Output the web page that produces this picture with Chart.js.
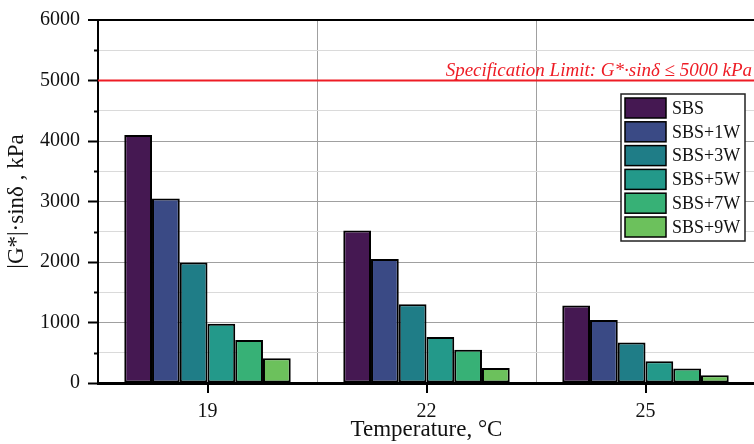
<!DOCTYPE html>
<html>
<head>
<meta charset="utf-8">
<script src="https://cdn.jsdelivr.net/npm/chart.js@4/dist/chart.umd.min.js"></script>
<style>
  html, body { margin: 0; padding: 0; background: #fff; overflow: hidden; }
  #wrap { width: 755px; height: 444px; position: relative; }
</style>
</head>
<body>
<div id="wrap"><canvas id="chart"></canvas></div>
<script>
// temperatures (°C) and |G*|·sinδ per binder, kPa
const temps = ['19', '22', '25'];
const sbs   = [4100, 2520, 1280];
const sbs1w = [3050, 2050, 1040];
const sbs3w = [1990, 1300, 670];
const sbs5w = [980, 760, 360];
const sbs7w = [710, 550, 240];
const sbs9w = [410, 250, 130];

const seriesNames = ['SBS', 'SBS+1W', 'SBS+3W', 'SBS+5W', 'SBS+7W', 'SBS+9W'];
const seriesColors = ['#451852', '#3a4a85', '#1f7d87', '#23998a', '#37b176', '#6cc15c'];
const specLimit = 5000;

const SERIF = '"Liberation Serif", "Times New Roman", serif';

const datasets = [sbs, sbs1w, sbs3w, sbs5w, sbs7w, sbs9w].map((vals, i) => ({
  label: seriesNames[i],
  data: vals,
  backgroundColor: seriesColors[i],
  borderColor: '#000',
  borderWidth: 2,
  borderSkipped: false,
  categoryPercentage: 0.76,
  barPercentage: 1
}));

// spec limit line + label, extra tick marks, boxed legend
const extras = {
  id: 'extras',
  beforeDatasetsDraw(chart) {
    const { ctx, chartArea: a, scales: { y } } = chart;
    const yy = y.getPixelForValue(specLimit);
    ctx.save();
    ctx.strokeStyle = '#ee1c25';
    ctx.lineWidth = 2;
    ctx.beginPath();
    ctx.moveTo(a.left, yy);
    ctx.lineTo(a.right, yy);
    ctx.stroke();
    ctx.fillStyle = '#ee1c25';
    ctx.font = 'italic 19px ' + SERIF;
    ctx.textAlign = 'right';
    ctx.textBaseline = 'alphabetic';
    ctx.fillText('Specification Limit: G*·sinδ ≤ 5000 kPa', 752, yy - 5);
    ctx.restore();
  },
  afterDraw(chart) {
    const { ctx, chartArea: a, scales: { x, y } } = chart;
    ctx.save();
    ctx.strokeStyle = '#000';
    ctx.lineWidth = 2;
    // minor y ticks
    y.ticks.forEach(t => {
      if (t.value % 1000 === 0) return;
      const py = Math.round(y.getPixelForValue(t.value)) + 0.5;
      ctx.beginPath();
      ctx.moveTo(a.left - 4, py);
      ctx.lineTo(a.left, py);
      ctx.stroke();
    });
    // x ticks at category centres
    temps.forEach((_, i) => {
      const px = Math.round(x.getPixelForValue(i));
      ctx.beginPath();
      ctx.moveTo(px, a.bottom);
      ctx.lineTo(px, a.bottom + 10);
      ctx.stroke();
    });

    // legend
    const bx = 621, by = 94, bw = 124, bh = 147;
    ctx.fillStyle = '#fff';
    ctx.fillRect(bx, by, bw, bh);
    ctx.strokeStyle = '#222';
    ctx.lineWidth = 1.5;
    ctx.strokeRect(bx, by, bw, bh);
    ctx.font = '18px ' + SERIF;
    ctx.textAlign = 'left';
    ctx.textBaseline = 'middle';
    chart.data.datasets.forEach((ds, i) => {
      const sy = by + 4 + i * 23.8;
      ctx.fillStyle = ds.backgroundColor;
      ctx.fillRect(bx + 4, sy, 41, 20);
      ctx.strokeStyle = '#000';
      ctx.strokeRect(bx + 4, sy, 41, 20);
      ctx.fillStyle = '#111';
      ctx.fillText(ds.label, bx + 51, sy + 11);
    });
    ctx.restore();
  }
};

new Chart(document.getElementById('chart'), {
  type: 'bar',
  data: { labels: temps, datasets },
  plugins: [extras],
  options: {
    responsive: true,
    maintainAspectRatio: false,
    animation: false,
    layout: { padding: { top: 20, right: 0, left: 0, bottom: 0 } },
    plugins: { legend: { display: false }, tooltip: { enabled: false } },
    scales: {
      x: {
        afterFit: s => { s.height = 61; },
        grid: { offset: true, color: '#a0a0a0', lineWidth: 1, drawTicks: false },
        border: { color: '#000', width: 3 },
        ticks: { font: { family: SERIF, size: 20 }, color: '#111', padding: 17 },
        title: {
          display: true, text: 'Temperature, °C',
          font: { family: SERIF, size: 23 }, color: '#111',
          padding: { top: 0, bottom: 0 }
        }
      },
      y: {
        min: 0, max: 6000,
        afterFit: s => { s.width = 98; },
        grid: {
          color: c => c.tick.value === 6000 ? '#000' : (c.tick.value % 1000 === 0 ? '#a0a0a0' : '#dadada'),
          lineWidth: c => c.tick.value === 6000 ? 2 : 1,
          tickColor: c => c.tick.value % 1000 === 0 ? '#000' : 'rgba(0,0,0,0)',
          tickWidth: 2,
          tickLength: 10
        },
        border: { color: '#000', width: 2 },
        ticks: {
          stepSize: 500,
          autoSkip: false,
          font: { family: SERIF, size: 20 }, color: '#111', padding: 8,
          callback: v => v % 1000 === 0 ? v : ''
        },
        title: {
          display: true, text: '|G*|·sinδ , kPa',
          font: { family: SERIF, size: 23 }, color: '#111',
          padding: { top: 3, bottom: 0 }
        }
      }
    }
  }
});
</script>
</body>
</html>
